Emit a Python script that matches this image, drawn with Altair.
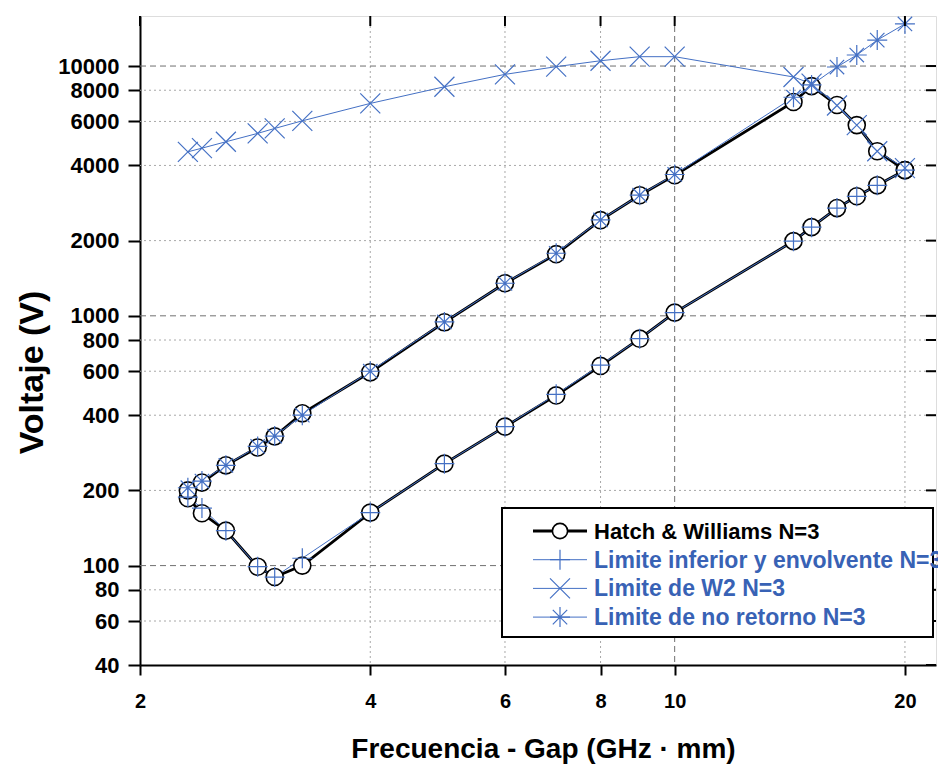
import altair as alt
import pandas as pd

# ---- data -------------------------------------------------------------
# frequency x gap values (GHz*mm) shared by every curve
x_pts = [2.31, 2.41, 2.59, 2.85, 3.0, 3.26, 4, 5, 6, 7, 8, 9, 10,
         14.3, 15.1, 16.3, 17.3, 18.4, 20]

# Hatch & Williams N=3 : closed multipactor zone (lower and upper boundary)
hw_lower_y = [186, 162, 138, 99, 90, 100, 163, 256, 360, 480, 630, 810, 1030,
              1990, 2265, 2700, 3010, 3330, 3830]
hw_upper_y = [200, 215, 252, 297, 329, 407, 594, 942, 1350, 1765, 2415, 3040, 3655,
              7180, 8310, 6980, 5800, 4560, 3830]

# lower limit and envelope N=3
inf_y = [188, 170, 138, 99, 90, 107, 163, 256, 360, 485, 635, 810, 1030,
         1990, 2265, 2700, 3010, 3330, 3830]

# W2 limit N=3
w2_y = [4535, 4690, 4975, 5375, 5625, 6035, 7085, 8260, 9260, 9940, 10500, 10900, 10900,
        9040, 8500, 6950, 5800, 4560, 3900]

# point-of-no-return limit N=3
nr_y = [205, 218, 252, 300, 330, 400, 600, 945, 1350, 1780, 2420, 3040, 3680,
        7500, 8400, 9910, 11070, 12700, 14740]

x_ticks = [2, 4, 6, 8, 10, 20]
y_ticks = [40, 60, 80, 100, 200, 400, 600, 800, 1000, 2000, 4000, 6000, 8000, 10000]
y_major_grid = [100, 1000, 10000]
y_minor_grid = [60, 80, 200, 400, 600, 800, 2000, 4000, 6000, 8000]
x_major_grid = [10]
x_minor_grid = [4, 6, 8, 20]

legend_labels = ["Hatch & Williams N=3", "Limite inferior y envolvente N=3",
                 "Limite de W2 N=3", "Limite de no retorno N=3"]

# ---- styling ----------------------------------------------------------
FONT = "Liberation Sans"
BLUE = "#4470c4"
TEXT_BLUE = "#3862b5"
W, H = 796, 649

PLUS = "M-1,0L1,0M0,-1L0,1"
XMARK = "M-1,-1L1,1M-1,1L1,-1"
ASTER = "M-1,0L1,0M0,-1L0,1M-0.72,-0.72L0.72,0.72M-0.72,0.72L0.72,-0.72"

xs = alt.Scale(type="log", domain=[2, 21.96], nice=False)
ys = alt.Scale(type="log", domain=[40, 15860], nice=False)

x_axis = alt.Axis(
    values=x_ticks, format="~g", title="Frecuencia - Gap (GHz · mm)", grid=False,
    tickSize=10, tickWidth=2, tickColor="black", domainColor="black", domainWidth=2,
    labelFont=FONT, labelFontWeight="bold", labelFontSize=20, labelColor="black",
    labelPadding=16, labelFlush=False,
    titleFont=FONT, titleFontWeight="bold", titleFontSize=28, titleColor="black",
    titleX=403, titleY=92, titleBaseline="alphabetic", titleAlign="center",
)
y_axis = alt.Axis(
    values=y_ticks, format="d", title="Voltaje (V)", grid=False,
    tickSize=12, tickWidth=2, tickColor="black", domainColor="black", domainWidth=2,
    labelFont=FONT, labelFontWeight="bold", labelFontSize=22, labelColor="black",
    labelPadding=9, labelFlush=False,
    titleFont=FONT, titleFontWeight="bold", titleFontSize=34, titleColor="black",
    titleX=-98, titleY=356, titleAngle=270, titleBaseline="alphabetic", titleAlign="center",
)

X = alt.X("x:Q", scale=xs, axis=x_axis)
Y = alt.Y("y:Q", scale=ys, axis=y_axis)

# ---- tables -----------------------------------------------------------
hw_loop = pd.DataFrame({
    "x": x_pts + x_pts[::-1],
    "y": hw_lower_y + hw_upper_y[::-1],
})
hw_loop["ord"] = range(len(hw_loop))

def series(ys_list):
    d = pd.DataFrame({"x": x_pts, "y": ys_list})
    d["ord"] = range(len(d))
    return d

inf_df = series(inf_y)
w2_df = series(w2_y)
nr_df = series(nr_y)
hw_pts = pd.concat([series(hw_lower_y), series(hw_upper_y)], ignore_index=True)

# ---- grid -------------------------------------------------------------
grid = [
    alt.Chart(pd.DataFrame({"y": y_minor_grid})).mark_rule(
        color="#a8a8a8", strokeWidth=1, strokeDash=[2, 3]).encode(y=Y),
    alt.Chart(pd.DataFrame({"x": x_minor_grid})).mark_rule(
        color="#a8a8a8", strokeWidth=1, strokeDash=[2, 3]).encode(x=X),
    alt.Chart(pd.DataFrame({"y": y_major_grid})).mark_rule(
        color="#707070", strokeWidth=1, strokeDash=[6, 4]).encode(y=Y),
    alt.Chart(pd.DataFrame({"x": x_major_grid})).mark_rule(
        color="#707070", strokeWidth=1, strokeDash=[6, 4]).encode(x=X),
]

# ---- curves -----------------------------------------------------------
hw_line = alt.Chart(hw_loop).mark_line(color="black", strokeWidth=2.8, clip=True).encode(
    x=X, y=Y, order="ord:Q")
blue_lines = [
    alt.Chart(d).mark_line(color=BLUE, strokeWidth=1, clip=True).encode(x=X, y=Y, order="ord:Q")
    for d in (inf_df, w2_df, nr_df)
]
hw_circles = alt.Chart(hw_pts).mark_point(
    shape="circle", filled=True, fill="white", stroke="black", strokeWidth=1.6,
    size=290, opacity=1, clip=True).encode(x=X, y=Y)


def marker_layer(d, path):
    return alt.Chart(d).mark_point(
        shape=path, filled=False, stroke=BLUE, strokeWidth=1.2, size=400, opacity=1,
        clip=True).encode(x=X, y=Y)


markers = [marker_layer(inf_df, PLUS), marker_layer(w2_df, XMARK), marker_layer(nr_df, ASTER)]

# ---- inward ticks on the top and right frame ---------------------------
right_ticks = alt.Chart(pd.DataFrame({"y": y_ticks})).mark_rule(
    color="black", strokeWidth=2).encode(y=Y, x=alt.value(W - 10), x2=alt.value(W))
top_ticks = alt.Chart(pd.DataFrame({"x": x_ticks})).mark_rule(
    color="black", strokeWidth=2).encode(x=X, y=alt.value(0), y2=alt.value(10))

# ---- legend -----------------------------------------------------------
one = pd.DataFrame({"k": [0]})
box_l, box_r, box_t, box_b = 362, 793, 492, 621
legend_layers = [
    alt.Chart(one).mark_rect(fill="white", stroke="black", strokeWidth=2).encode(
        x=alt.value(box_l), x2=alt.value(box_r), y=alt.value(box_t), y2=alt.value(box_b))
]
row_y0, row_dy = 515, 28.7
line_l, line_r, mark_x, text_x = 393, 447, 420, 454
for i, label in enumerate(legend_labels):
    ry = row_y0 + i * row_dy
    if i == 0:
        legend_layers.append(alt.Chart(one).mark_rule(color="black", strokeWidth=2.8).encode(
            x=alt.value(line_l), x2=alt.value(line_r), y=alt.value(ry)))
        legend_layers.append(alt.Chart(one).mark_point(
            shape="circle", filled=True, fill="white", stroke="black", strokeWidth=1.6,
            size=230, opacity=1).encode(x=alt.value(mark_x), y=alt.value(ry)))
        color, fsize = "black", 22
    else:
        legend_layers.append(alt.Chart(one).mark_rule(color=BLUE, strokeWidth=1).encode(
            x=alt.value(line_l), x2=alt.value(line_r), y=alt.value(ry)))
        legend_layers.append(alt.Chart(one).mark_point(
            shape=[PLUS, XMARK, ASTER][i - 1], filled=False, stroke=BLUE, strokeWidth=1.2,
            size=400, opacity=1).encode(x=alt.value(mark_x), y=alt.value(ry)))
        color, fsize = TEXT_BLUE, 23
    legend_layers.append(alt.Chart(one).mark_text(
        text=label, font=FONT, fontWeight="bold", fontSize=fsize, color=color,
        align="left", baseline="middle").encode(x=alt.value(text_x), y=alt.value(ry + 1)))

chart = alt.layer(
    *grid, hw_line, *blue_lines, hw_circles, *markers, right_ticks, top_ticks, *legend_layers
).properties(
    width=W, height=H,
    padding={"left": 140, "top": 16, "right": 2, "bottom": 101},
    autosize=alt.AutoSizeParams(type="none"),
).configure_view(stroke="black", strokeWidth=2).configure(font=FONT)

chart.save("out.html", embed_options={"renderer": "svg", "actions": False})
